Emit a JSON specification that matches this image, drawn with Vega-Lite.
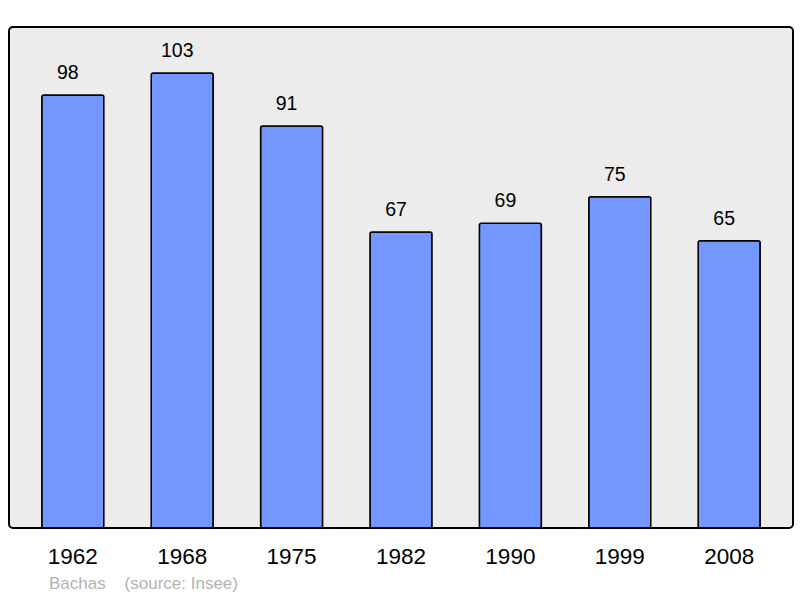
{
  "$schema": "https://vega.github.io/schema/vega-lite/v6.json",
  "width": 784,
  "height": 501,
  "autosize": {"type": "none"},
  "padding": {"left": 9, "top": 27, "right": 7, "bottom": 70},
  "background": "white",
  "config": {
    "font": "Liberation Sans",
    "view": {"fill": "#ececec", "stroke": "black", "strokeWidth": 2, "cornerRadius": 4}
  },
  "title": {
    "text": "Bachas\u00a0\u00a0\u00a0\u00a0(source: Insee)",
    "orient": "bottom",
    "anchor": "start",
    "frame": "group",
    "dx": 40,
    "offset": 8,
    "color": "#b3b3b3",
    "fontSize": 17,
    "fontWeight": "normal",
    "font": "Liberation Sans"
  },
  "data": {
    "values": [
      {"year": "1962", "pop": 98},
      {"year": "1968", "pop": 103},
      {"year": "1975", "pop": 91},
      {"year": "1982", "pop": 67},
      {"year": "1990", "pop": 69},
      {"year": "1999", "pop": 75},
      {"year": "2008", "pop": 65}
    ]
  },
  "encoding": {
    "x": {
      "field": "year",
      "type": "ordinal",
      "scale": {"paddingInner": 0.433, "paddingOuter": 0.3},
      "axis": {"title": null, "labelAngle": 0, "ticks": false, "domain": false, "labelFontSize": 22.5, "labelColor": "black", "labelPadding": 17.5, "labelFont": "Liberation Sans"}
    },
    "y": {
      "field": "pop",
      "type": "quantitative",
      "scale": {"domain": [0, 113.4], "nice": false, "zero": true},
      "axis": null
    }
  },
  "layer": [
    {
      "mark": {"type": "bar", "fill": "#7396ff", "stroke": "black", "strokeWidth": 1.5, "cornerRadius": 2}
    },
    {
      "mark": {"type": "text", "baseline": "bottom", "dy": -12, "dx": -5, "fontSize": 19.5, "color": "black", "font": "Liberation Sans"},
      "encoding": {"text": {"field": "pop", "type": "quantitative"}}
    }
  ]
}
